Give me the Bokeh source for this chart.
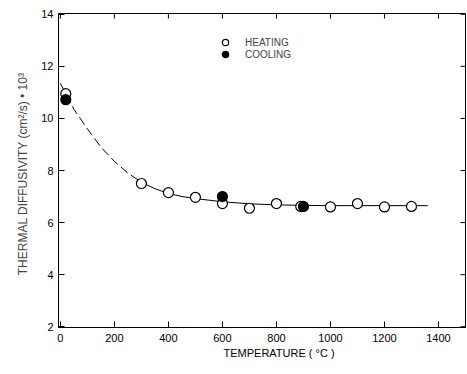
import math
from bokeh.plotting import figure
from bokeh.models import Range1d, FixedTicker, Legend, LegendItem, Title
from bokeh.embed import file_html
from bokeh.resources import INLINE

# Data
heat_T = [20, 300, 400, 500, 600, 700, 800, 890, 1000, 1100, 1200, 1300]
heat_v = [10.95, 7.5, 7.15, 6.97, 6.73, 6.55, 6.73, 6.62, 6.6, 6.73, 6.6, 6.62]
cool_T = [20, 600, 900]
cool_v = [10.72, 7.0, 6.62]

# fitted curve as drawn (dashed part, then solid part)
curve_dash_T = [0, 50, 100, 150, 200, 250, 300]
curve_dash_v = [11.35, 10.35, 9.6, 8.9, 8.35, 7.9, 7.55]
curve_solid_T = [300, 350, 400, 450, 500, 550, 600, 700, 800, 900, 1000, 1100, 1200, 1300, 1360]
curve_solid_v = [7.55, 7.3, 7.12, 7.0, 6.92, 6.86, 6.8, 6.72, 6.68, 6.66, 6.65, 6.65, 6.65, 6.65, 6.65]

x_ticks = [0, 200, 400, 600, 800, 1000, 1200, 1400]
y_ticks = [2, 4, 6, 8, 10, 12, 14]
y_tick_labels = {2: "2", 4: "4", 6: "6", 8: "8", 10: "10", 12: "12", 14: "14"}

FONT = "Liberation Sans"
X0, X1 = -7, 1500
Y0, Y1 = 1.97, 14.03

p = figure(width=467, height=374, output_backend="svg", toolbar_location=None,
           x_range=Range1d(X0, X1), y_range=Range1d(Y0, Y1),
           min_border_left=58, min_border_right=2, min_border_top=13, min_border_bottom=47)
p.background_fill_color = "white"
p.border_fill_color = "white"
p.grid.visible = False
p.outline_line_color = "black"
p.outline_line_width = 1

for ax in (p.xaxis[0], p.yaxis[0]):
    ax.major_tick_in = 6
    ax.major_tick_out = 0
    ax.minor_tick_in = 0
    ax.minor_tick_out = 0
    ax.major_label_text_font = FONT
    ax.major_label_text_font_size = "11px"
    ax.major_label_text_color = "black"
    ax.axis_line_color = "black"
    ax.major_tick_line_color = "black"

p.xaxis[0].ticker = FixedTicker(ticks=x_ticks)
p.yaxis[0].ticker = FixedTicker(ticks=y_ticks)
p.yaxis[0].major_label_overrides = y_tick_labels
p.xaxis[0].major_label_standoff = 6
p.yaxis[0].major_label_standoff = 5

p.yaxis[0].axis_label = "THERMAL  DIFFUSIVITY  (cm²/s) • 10³"
p.yaxis[0].axis_label_text_font = FONT
p.yaxis[0].axis_label_text_font_size = "12px"
p.yaxis[0].axis_label_text_font_style = "normal"
p.yaxis[0].axis_label_standoff = 8

xtitle = Title(text="TEMPERATURE ( °C )", align="left", offset=165,
               text_font=FONT, text_font_size="11px", text_font_style="normal",
               text_color="black", standoff=1)
p.add_layout(xtitle, "below")

# inward ticks on the top and right edges (clipped to the frame)
p.scatter(x_ticks, [Y1] * len(x_ticks), marker="dash", angle=math.pi / 2, size=10,
          line_color="black", line_width=1)
p.scatter([X1] * len(y_ticks), y_ticks, marker="dash", size=10,
          line_color="black", line_width=1)

p.line(curve_dash_T, curve_dash_v, line_color="black", line_width=1, line_dash="9 4")
p.line(curve_solid_T, curve_solid_v, line_color="black", line_width=1)

r_heat = p.scatter(heat_T, heat_v, size=10, marker="circle", fill_color="white",
                   line_color="black", line_width=1.2)
r_cool = p.scatter(cool_T, cool_v, size=10, marker="circle", fill_color="black",
                   line_color="black", line_width=1.2)

common = dict(orientation="vertical", background_fill_alpha=0, border_line_alpha=0,
              padding=0, margin=0, spacing=0, glyph_width=16, glyph_height=16,
              label_height=10, label_standoff=12, label_text_font=FONT,
              label_text_font_size="10px")
leg1 = Legend(items=[LegendItem(label="HEATING", renderers=[r_heat])],
              location=(159, 277), **common)
leg2 = Legend(items=[LegendItem(label="COOLING", renderers=[r_cool])],
              location=(159, 265), **common)
p.add_layout(leg1, "center")
p.add_layout(leg2, "center")

open("out.html", "w").write(file_html(p, INLINE))
